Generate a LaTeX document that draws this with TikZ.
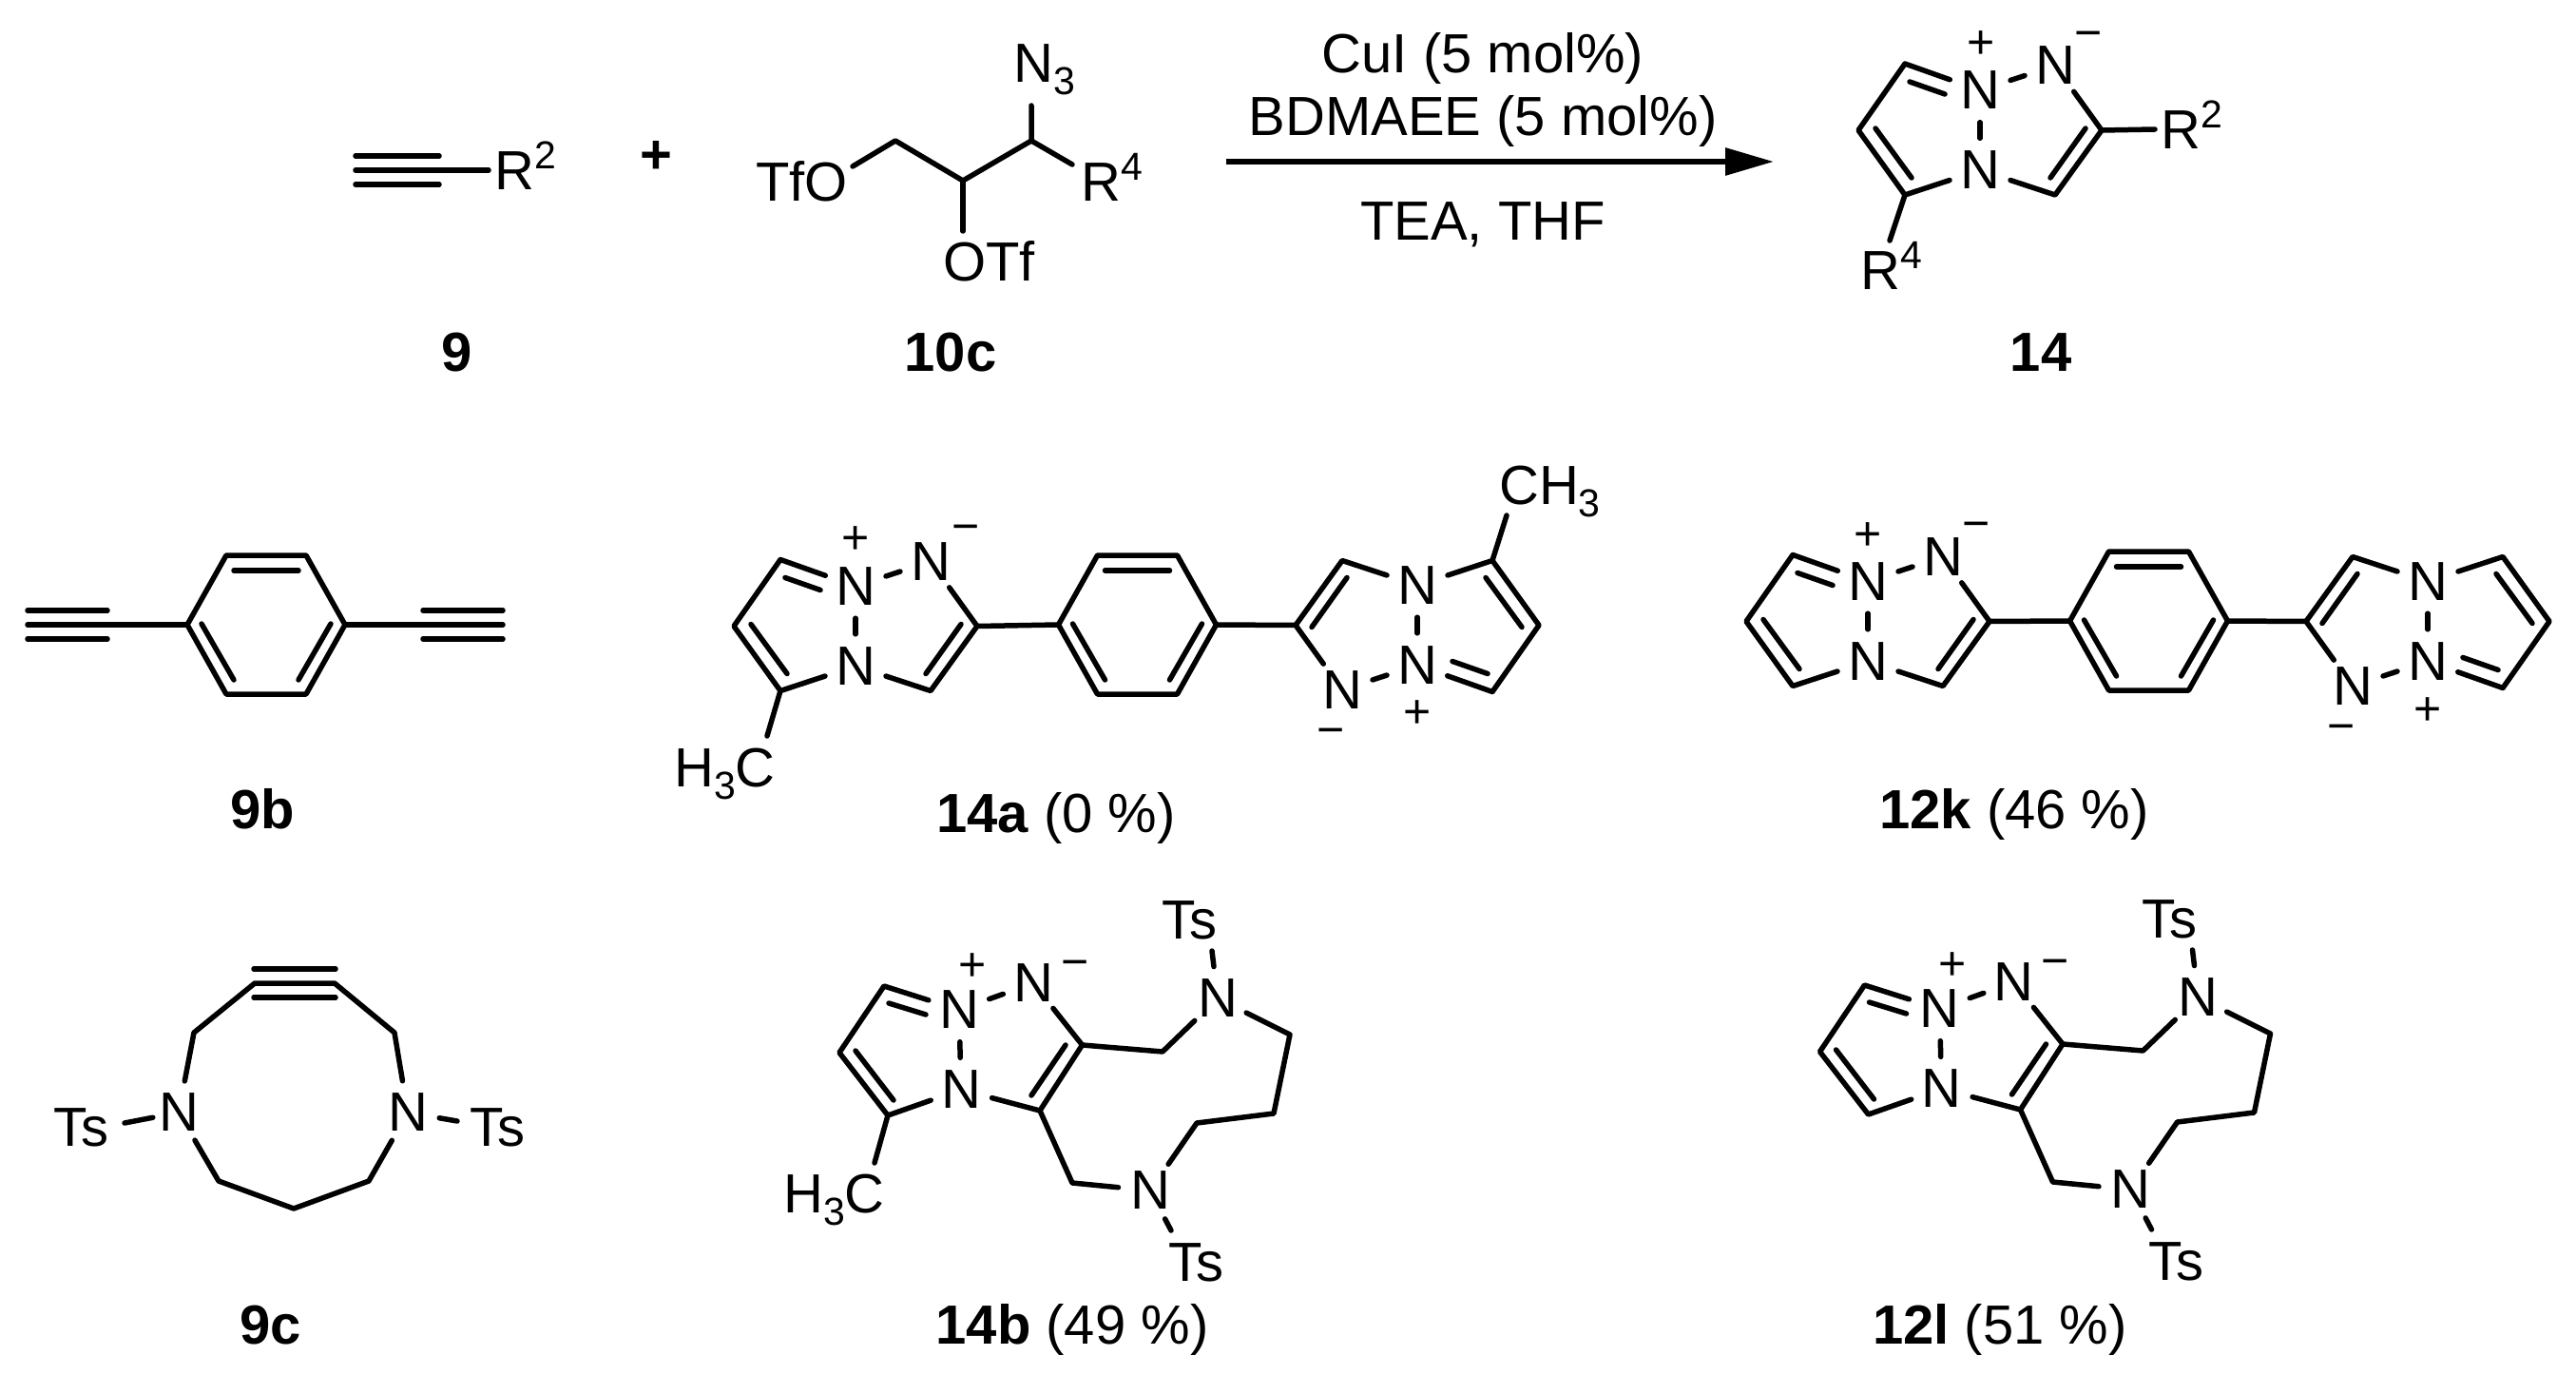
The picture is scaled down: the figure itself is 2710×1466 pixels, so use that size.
\documentclass[tikz,border=0pt]{standalone}
\usepackage{fontspec}
\setmainfont{Liberation Sans}
\usetikzlibrary{arrows.meta}
\newcommand{\supt}[1]{\raisebox{22pt}{\fontsize{41}{41}\selectfont #1}}
\newcommand{\subt}[1]{\raisebox{-13pt}{\fontsize{41}{41}\selectfont #1}}
\tikzset{
  x=1pt,y=-1pt,
  bond/.style={line width=5.5pt,line cap=round,line join=round,black},
  atom/.style={circle,minimum size=67pt,inner sep=0pt,font=\fontsize{58}{70}\selectfont},
  txt/.style={inner sep=0pt,anchor=base west,font=\fontsize{58}{70}\selectfont},
  ctxt/.style={inner sep=0pt,anchor=base,font=\fontsize{58}{70}\selectfont},
  chgp/.style={inner sep=0pt,yshift=-3pt,font=\fontsize{50}{60}\selectfont},
  chgm/.style={inner sep=0pt,yshift=-8pt,font=\fontsize{50}{60}\selectfont},
  pics/benz/.style={code={
    \coordinate (-l) at (-83,0);
    \coordinate (-r) at (83,0);
    \coordinate (-tl) at (-42,-73);
    \coordinate (-tr) at (42,-73);
    \coordinate (-bl) at (-42,73);
    \coordinate (-br) at (42,73);
    \draw[bond] (-l) -- (-tl) -- (-tr) -- (-r) -- (-br) -- (-bl) -- cycle;
    \draw[bond] (-34,-57) -- (34,-57);
    \draw[bond] (-68,-1) -- (-34,58);
    \draw[bond] (68,-1) -- (34,58);
  }},
  pics/triaz/.style={code={
    \node[atom] (-np) at (0,-42) {N};
    \node[atom] (-nl) at (0,42) {N};
    \node[atom] (-nm) at (79,-68) {N};
    \coordinate (-tl) at (-79,-70);
    \coordinate (-l) at (-128,0);
    \coordinate (-bl) at (-79,68);
    \coordinate (-cr) at (128,0);
    \coordinate (-cb) at (79,68);
    \draw[bond] (-np) -- (-tl) -- (-l) -- (-bl) -- (-nl);
    \draw[bond] (-np) -- (-nl);
    \draw[bond] (-np) -- (-nm);
    \draw[bond] (-nm) -- (-cr) -- (-cb) -- (-nl);
    \draw[bond] (-74,-51) -- (-37,-38);
    \draw[bond] (-110,-2) -- (-72,50);
    \draw[bond] (111,-2) -- (74,50);
  }},
  pics/macro/.style={code={
    \node[atom] (-np) at (1009,1062) {N};
    \node[atom] (-nl) at (1011,1146) {N};
    \node[atom] (-nm) at (1087,1034) {N};
    \node[atom] (-nt) at (1281,1050) {N};
    \node[atom] (-nb) at (1210,1252) {N};
    \coordinate (-tl) at (930,1037);
    \coordinate (-l) at (883,1107);
    \coordinate (-bl) at (934,1173);
    \coordinate (-cu) at (1138.5,1099);
    \coordinate (-cd) at (1094,1168);
    \coordinate (-a1) at (1223,1106);
    \coordinate (-a2) at (1357,1088);
    \coordinate (-a3) at (1340,1171);
    \coordinate (-a4) at (1259,1181);
    \coordinate (-a5) at (1128,1244);
    \coordinate (-ts1) at (1275,1000);
    \coordinate (-ts2) at (1232,1294);
    \draw[bond] (-np) -- (-tl) -- (-l) -- (-bl) -- (-nl);
    \draw[bond] (-np) -- (-nl);
    \draw[bond] (-np) -- (-nm);
    \draw[bond] (-nm) -- (-cu) -- (-cd) -- (-nl);
    \draw[bond] (-cu) -- (-a1) -- (-nt) -- (-a2) -- (-a3) -- (-a4) -- (-nb) -- (-a5) -- (-cd);
    \draw[bond] (935,1055) -- (974,1067);
    \draw[bond] (900,1105) -- (940,1157);
    \draw[bond] (1121,1099) -- (1085,1152);
    \draw[bond] (-nt) -- (-ts1);
    \draw[bond] (-nb) -- (-ts2);
    \node[txt] (-tst) at (1222,987) {Ts};
    \node[txt] (-tsb) at (1229,1347) {Ts};
    \node[chgp] (-pl) at (1023,1014) {+};
    \node[chgm] (-mi) at (1131,1011) {−};
  }}
}
\begin{document}
\begin{tikzpicture}
\path[use as bounding box,fill=white] (0,0) rectangle (2710,1466);

% alkyne 9
\coordinate (a1) at (374,179);
\coordinate (a2) at (462,179);
\coordinate (a3) at (514,179);
\coordinate (a1u) at (374,164);
\coordinate (a2u) at (462,164);
\coordinate (a1d) at (374,194);
\coordinate (a2d) at (462,194);
\draw[bond] (a1) -- (a3);
\draw[bond] (a1u) -- (a2u);
\draw[bond] (a1d) -- (a2d);
\node[txt] (r2a) at (520,200) {R\supt{2}};
\node[inner sep=0pt,font=\bfseries\fontsize{58}{70}\selectfont] (plus) at (690,165) {+};

% 10c
\coordinate (b1) at (897,175);
\coordinate (b2) at (942,148);
\coordinate (b3) at (1013,190);
\coordinate (b4) at (1013,243);
\coordinate (b5) at (1085,148);
\coordinate (b6) at (1085,111);
\coordinate (b7) at (1128,173);
\draw[bond] (b1) -- (b2) -- (b3) -- (b5) -- (b6);
\draw[bond] (b3) -- (b4);
\draw[bond] (b5) -- (b7);
\node[txt] (tfo) at (795,212) {TfO};
\node[txt] (otf) at (992,295) {OTf};
\node[txt] (n3) at (1066,87) {N\subt{3}};
\node[txt] (r4a) at (1137,212) {R\supt{4}};

% labels row 1
\node[ctxt] (l9) at (481,390) {\textbf{9}};
\node[ctxt] (l10c) at (1000,390) {\textbf{10c}};
\node[ctxt] (l14) at (2147,390) {\textbf{14}};

% reaction arrow
\coordinate (arrL) at (1290,170);
\coordinate (arrR) at (1866,170);
\draw[line width=6pt,-{Triangle[length=51pt,width=28pt]}] (arrL) -- (arrR);
\node[ctxt] (c1) at (1560,77) {CuI (5 mol\%)};
\node[ctxt] (c2) at (1560,143) {BDMAEE (5 mol\%)};
\node[ctxt] (c3) at (1560,252) {TEA, THF};

% product 14
\pic (p) at (2083,137) {triaz};
\coordinate (pr) at (2267,136);
\draw[bond] (p-cr) -- (pr);
\coordinate (pm) at (1988,253);
\draw[bond] (p-bl) -- (pm);
\node[txt] (r2p) at (2273.5,157) {R\supt{2}};
\node[txt] (r4p) at (1957,305) {R\supt{4}};
\node[chgp] (pp) at (2084,44) {+};
\node[chgm] (pmi) at (2197,34) {−};

% 9b
\pic (q) at (280,657) {benz};
\coordinate (q1) at (29,657);
\coordinate (q2) at (115,657);
\coordinate (q3) at (445,657);
\coordinate (q4) at (529,657);
\draw[bond] (q1) -- (q-l);
\draw[bond] (q-r) -- (q4);
\coordinate (q1u) at (29,642);
\coordinate (q2u) at (113,642);
\coordinate (q1d) at (29,672);
\coordinate (q2d) at (113,672);
\coordinate (q3u) at (445,642);
\coordinate (q4u) at (529,642);
\coordinate (q3d) at (445,672);
\coordinate (q4d) at (529,672);
\draw[bond] (q1u) -- (q2u);
\draw[bond] (q1d) -- (q2d);
\draw[bond] (q3u) -- (q4u);
\draw[bond] (q3d) -- (q4d);
\node[ctxt] (l9b) at (276,871) {\textbf{9b}};

% 14a
\pic (s1) at (900,658.5) {triaz};
\pic (sb) at (1196.5,657) {benz};
\pic[rotate=180] (s2) at (1491,657.5) {triaz};
\draw[bond] (s1-cr) -- (sb-l);
\draw[bond] (sb-r) -- (s2-cr);
\coordinate (sm1) at (807,774);
\coordinate (sm2) at (1585,542);
\draw[bond] (s1-bl) -- (sm1);
\draw[bond] (s2-bl) -- (sm2);
\node[txt] (h3c1) at (709,827) {H\subt{3}C};
\node[txt] (ch31) at (1577,530) {CH\subt{3}};
\node[chgp] (s1p) at (900,565) {+};
\node[chgm] (s1m) at (1016,553) {−};
\node[chgp] (s2p) at (1491,748) {+};
\node[chgm] (s2m) at (1400,767) {−};
\node[ctxt] (l14a) at (1111,875) {\textbf{14a} (0 \%)};

% 12k
\pic (k1) at (1965,653.5) {triaz};
\pic (kb) at (2260.5,653) {benz};
\pic[rotate=180] (k2) at (2554,653.5) {triaz};
\draw[bond] (k1-cr) -- (kb-l);
\draw[bond] (kb-r) -- (k2-cr);
\node[chgp] (k1p) at (1965,561) {+};
\node[chgm] (k1m) at (2079,550) {−};
\node[chgp] (k2p) at (2554,745) {+};
\node[chgm] (k2m) at (2463,763) {−};
\node[ctxt] (l12k) at (2119,871) {\textbf{12k} (46 \%)};

% 9c
\node[atom] (cn1) at (188,1170) {N};
\node[atom] (cn2) at (429,1170) {N};
\coordinate (ca) at (268,1034);
\coordinate (cb) at (352,1034);
\coordinate (cc) at (204,1086);
\coordinate (cd) at (415,1086);
\coordinate (ce) at (230,1242);
\coordinate (cf) at (309,1271);
\coordinate (cg) at (388,1242);
\coordinate (cau) at (267,1019);
\coordinate (cbu) at (353,1019);
\coordinate (cad) at (267,1049);
\coordinate (cbd) at (353,1049);
\coordinate (ct1) at (131,1181);
\coordinate (ct2) at (481,1179);
\draw[bond] (cn1) -- (cc) -- (ca) -- (cb) -- (cd) -- (cn2);
\draw[bond] (cau) -- (cbu);
\draw[bond] (cad) -- (cbd);
\draw[bond] (cn1) -- (ce) -- (cf) -- (cg) -- (cn2);
\draw[bond,shorten <=-6pt] (cn1) -- (ct1);
\draw[bond] (cn2) -- (ct2);
\node[txt] (cts1) at (56,1205) {Ts};
\node[txt] (cts2) at (494,1205) {Ts};
\node[ctxt] (l9c) at (285,1413) {\textbf{9c}};

% 14b
\pic (m) at (0,0) {macro};
\coordinate (mm) at (920,1223);
\draw[bond] (m-bl) -- (mm);
\node[txt] (h3c2) at (824,1275) {H\subt{3}C};
\node[ctxt] (l14b) at (1128,1413) {\textbf{14b} (49 \%)};

% 12l
\pic (n) at (1031.5,-1) {macro};
\node[ctxt] (l12l) at (2104,1413) {\textbf{12l} (51 \%)};
\end{tikzpicture}
\end{document}
